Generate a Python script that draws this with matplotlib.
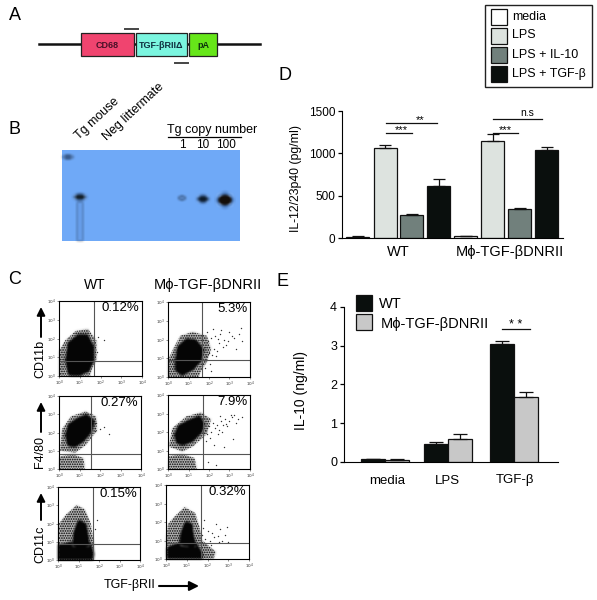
import matplotlib
matplotlib.use("Agg")
import matplotlib.pyplot as plt
import numpy as np
from matplotlib.patches import Rectangle, Ellipse, Polygon

plt.rcParams['font.family'] = ['Liberation Sans', 'DejaVu Sans']
plt.rcParams['hatch.linewidth'] = 0.8

W, H = 597, 600

# panel D
d_groups = ["WT", "Mϕ-TGF-βDNRII"]
d_treatments = ["media", "LPS", "LPS + IL-10", "LPS + TGF-β"]
d_colors = ["#ffffff", "#dde3df", "#71807c", "#0a0f0d"]
d_wt = [15, 1065, 270, 615]
d_wt_err = [3, 35, 10, 80]
d_tg = [20, 1150, 340, 1045]
d_tg_err = [3, 80, 20, 25]

# panel E
e_groups = ["media", "LPS", "TGF-β"]
e_wt = [0.07, 0.47, 3.05]
e_wt_err = [0.02, 0.04, 0.07]
e_tg = [0.05, 0.60, 1.68]
e_tg_err = [0.03, 0.12, 0.13]

# panel B bands
blot_bands_x = [18, 120, 141, 163, 6]
blot_bands_y = [47, 48, 49, 50, 7]
blot_bands_w = [11, 6, 10, 14, 9]
blot_bands_h = [5, 3, 6, 11, 3]
blot_bands_c = ["#101a20", "#5f88c0", "#0c1a28", "#140e08", "#33507a"]

# panel C, decades on both axes
facs_boxes = [(59, 301, 142, 376), (168, 302, 250, 377),
              (59, 396, 141, 469), (168, 395, 250, 469),
              (58, 487, 140, 560), (166, 485, 249, 559)]
facs_gate_x = [1.67, 1.68, 1.57, 1.72, 1.72, 1.7]
facs_gate_y = [0.8, 0.9, 0.8, 0.8, 0.85, 0.85]
facs_pct = ["0.12%", "5.3%", "0.27%", "7.9%", "0.15%", "0.32%"]

# outlines of the solid part of each cloud
facs_core = [
    [[(0.45, 0.85), (0.55, 1.7), (0.95, 2.05), (1.3, 2.05), (1.55, 1.55), (1.55, 0.85), (1.35, 0.35), (0.9, 0.15), (0.55, 0.2)]],
    [[(0.5, 0.92), (0.58, 1.55), (0.95, 1.9), (1.3, 1.85), (1.6, 1.45), (1.52, 0.95), (1.15, 0.5), (0.7, 0.25), (0.5, 0.4)]],
    [[(0.45, 1.85), (0.56, 2.35), (0.98, 2.68), (1.33, 2.82), (1.58, 2.6), (1.5, 2.14), (1.12, 1.62), (0.78, 1.38), (0.52, 1.4)]],
    [[(0.45, 1.85), (0.6, 2.25), (1.07, 2.52), (1.5, 2.7), (1.64, 2.42), (1.53, 2.05), (1.12, 1.6), (0.75, 1.45), (0.52, 1.5)]],
    [[(0.1, 0.1), (0.1, 0.7), (0.5, 0.8), (1.0, 0.9), (1.5, 0.8), (1.6, 0.3), (1.55, 0.1)],
     [(0.85, 0.9), (0.9, 1.5), (1.05, 2.0), (1.25, 1.9), (1.35, 1.3), (1.4, 0.9)]],
    [[(0.2, 0.1), (0.2, 0.55), (0.6, 0.7), (0.9, 0.8), (1.4, 0.7), (1.6, 0.3), (1.6, 0.1)],
     [(0.8, 0.9), (0.85, 1.4), (1.0, 1.85), (1.15, 1.8), (1.2, 1.25), (1.3, 0.8)]],
]
# outlines of the thinner part
facs_halo = [
    [[(0, 0), (0, 1.3), (0.3, 1.9), (0.8, 2.4), (1.4, 2.5), (1.8, 1.9), (1.8, 0.9), (1.6, 0.4), (1.5, 0)]],
    [[(0, 0), (0, 0.9), (0.3, 1.6), (0.6, 2.2), (1.2, 2.4), (1.9, 2.2), (2.1, 1.5), (1.9, 0.8), (1.6, 0.3), (1.5, 0)]],
    [[(0.05, 1.0), (0.15, 2.2), (0.6, 2.9), (1.3, 3.15), (1.8, 2.9), (1.85, 2.1), (1.3, 1.3), (0.8, 0.9)],
     [(0, 0), (0.05, 0.7), (0.7, 0.8), (1.2, 0.6), (1.25, 0)]],
    [[(0.05, 1.2), (0.2, 2.2), (0.9, 2.85), (1.6, 3.05), (2.1, 2.7), (1.9, 1.9), (1.2, 1.2), (0.7, 0.95)],
     [(0, 0), (0.05, 0.7), (0.7, 0.8), (1.3, 0.6), (1.4, 0)]],
    [[(0, 0.5), (0.05, 2.0), (0.4, 2.5), (0.9, 3.0), (1.3, 2.8), (1.6, 2.0), (1.75, 0.9), (1.75, 0), (0, 0)]],
    [[(0.05, 0), (0, 1.0), (0.1, 1.9), (0.5, 2.4), (0.9, 2.8), (1.4, 2.5), (1.6, 1.8), (1.75, 1.0), (2.4, 0.4), (2.3, 0)]],
]

# stray events that fall outside the clouds
facs_x = [[2.15, 1.85, 1.9],
          [1.8, 1.95, 2.1, 2.3, 2.55, 2.75, 3.0, 3.2, 3.45, 3.6, 2.0, 2.25, 2.5, 2.7, 2.95,
           3.1, 1.85, 2.15, 2.4, 2.6, 2.85, 3.3, 1.9, 2.2, 2.45, 2.05, 2.35, 3.55, 1.8, 2.1],
          [1.8, 2.0, 2.2, 2.45, 1.75],
          [1.8, 2.0, 2.2, 2.4, 2.6, 2.8, 3.0, 3.2, 3.4, 3.6, 1.9, 2.1, 2.3, 2.5, 2.7, 2.9,
           3.1, 3.3, 1.85, 2.05, 2.25, 2.45, 2.65, 2.85, 3.05, 1.95, 2.35, 2.75, 3.15, 2.55],
          [1.9, 1.8],
          [1.75, 1.9, 2.1, 2.3, 2.55, 2.85, 1.8, 2.0, 2.2, 2.4, 2.7, 1.85, 2.15, 2.5, 3.0, 2.6, 2.95]]
facs_y = [[1.9, 1.3, 2.1],
          [1.6, 1.9, 2.1, 2.2, 2.3, 2.0, 2.4, 2.1, 2.3, 1.9, 1.3, 1.5, 1.8, 1.6, 1.9,
           2.2, 1.1, 1.2, 1.4, 2.5, 1.7, 1.5, 2.4, 2.55, 2.05, 0.7, 1.1, 2.6, 0.5, 0.3],
          [2.5, 2.2, 2.3, 1.9, 2.1],
          [2.1, 2.3, 2.5, 2.4, 2.6, 2.7, 2.6, 2.9, 2.7, 2.8, 1.9, 2.0, 2.2, 2.1, 2.4, 2.3,
           2.8, 2.5, 1.5, 1.7, 1.3, 1.9, 2.0, 2.45, 2.9, 0.4, 0.2, 1.2, 1.6, 2.85],
          [2.2, 1.7],
          [1.3, 1.1, 0.95, 1.2, 0.9, 1.3, 1.7, 1.5, 1.4, 1.9, 1.0, 2.1, 0.75, 1.25, 0.9, 1.6, 1.75]]

letters = [("A", 9, 15), ("B", 9, 130), ("C", 8, 280), ("D", 278, 76), ("E", 277, 281)]

fig = plt.figure(figsize=(W / 100, H / 100), dpi=100, facecolor="white")


def px_axes(x0, y0, x1, y1):
    return fig.add_axes([x0 / W, 1 - y1 / H, (x1 - x0) / W, (y1 - y0) / H])


def soften(img, dpi):
    # little box blur so the solid marks get a jpeg-ish edge
    pad = 4
    img = np.pad(img, ((pad, pad), (pad, pad), (0, 0)))
    kernel = np.array([1, 2, 3, 2, 1]) / 9
    for axis in (0, 1):
        img = np.apply_along_axis(lambda v: np.convolve(v, kernel, mode="same"), axis, img)
    return img, -pad, -pad


page = fig.add_axes([0, 0, 1, 1], zorder=5)
page.set_xlim(0, W)
page.set_ylim(H, 0)
page.axis("off")
page.patch.set_alpha(0)

for s, x, y in letters:
    page.text(x, y, s, fontsize=13, ha="left", va="center")

# A: construct map
page.plot([39, 260], [44, 44], color="#111111", lw=1.8, zorder=1)
for x0, x1, c, s, tc in [(81, 134, "#f0446f", "CD68", "#4a1028"),
                         (136, 187, "#7bf5df", "TGF-βRIIΔ", "#103040"),
                         (189, 217, "#66e619", "pA", "#0c300c")]:
    page.add_patch(Rectangle((x0, 33), x1 - x0, 23, fc=c, ec="#222222", lw=0.9, zorder=2))
    page.text((x0 + x1) / 2, 45, s, fontsize=6.5, fontweight="bold", color=tc,
              ha="center", va="center", zorder=3)
page.plot([125, 138], [29, 29], color="#444444", lw=1.4)
page.plot([175, 188], [62.5, 62.5], color="#444444", lw=1.4)

# B: blot
blot = px_axes(62, 150, 240, 241)
blot.set_xlim(0, 178)
blot.set_ylim(91, 0)
blot.set_facecolor("#6fa9f7")
blot.set_xticks([])
blot.set_yticks([])
for sp in blot.spines.values():
    sp.set_visible(False)
smear = Rectangle((15, 52), 6, 39, fc="#5f93de", ec="none", alpha=0.55)
smear.set_agg_filter(soften)
blot.add_patch(smear)
for x, y, w, h, c in zip(blot_bands_x, blot_bands_y, blot_bands_w, blot_bands_h, blot_bands_c):
    halo = Ellipse((x, y), w * 1.3, h * 1.5, fc="#3d6fb5", ec="none", alpha=0.5)
    halo.set_agg_filter(soften)
    blot.add_patch(halo)
    band = Ellipse((x, y), w, h, fc=c, ec="none")
    band.set_agg_filter(soften)
    blot.add_patch(band)
page.text(81, 142, "Tg mouse", fontsize=9, rotation=43, ha="left", va="bottom",
          rotation_mode="anchor")
page.text(109, 143, "Neg littermate", fontsize=9, rotation=43, ha="left", va="bottom",
          rotation_mode="anchor")
page.text(167, 130, "Tg copy number", fontsize=9, ha="left", va="center")
page.plot([168, 241], [137, 137], color="black", lw=0.9)
for x, s in [(182, "1"), (203, "10"), (226, "100")]:
    page.text(x, 145, s, fontsize=8.5, ha="center", va="center")

# C: flow plots
for i, box in enumerate(facs_boxes):
    ax = px_axes(*box)
    ax.set_xlim(0, 4)
    ax.set_ylim(0, 4)
    for pts in facs_halo[i]:
        fill = Polygon(pts, fc="#000000", ec="none", alpha=0.3)
        fill.set_agg_filter(soften)
        ax.add_patch(fill)
        ax.add_patch(Polygon(pts, fc="none", ec="#000000", lw=0, hatch="......."))
    for pts in facs_core[i]:
        core = Polygon(pts, fc="#050505", ec="#050505", lw=5, joinstyle="round")
        core.set_agg_filter(soften)
        ax.add_patch(core)
    ax.scatter(facs_x[i], facs_y[i], s=1, color="#333333", linewidths=0)
    ax.axvline(facs_gate_x[i], color="#555555", lw=0.8)
    ax.axhline(facs_gate_y[i], color="#555555", lw=0.8)
    ax.set_xticks(range(5), [f"$10^{k}$" for k in range(5)])
    ax.set_yticks(range(5), [f"$10^{k}$" for k in range(5)])
    ax.tick_params(labelsize=3, length=1.5, width=0.4, pad=0.5, colors="#333333")
    for sp in ax.spines.values():
        sp.set_linewidth(0.8)
    ax.text(0.97, 0.91, facs_pct[i], transform=ax.transAxes, fontsize=9.5,
            ha="right", va="center")

page.text(95, 285, "WT", fontsize=10, ha="center", va="center")
page.text(208, 285, "Mϕ-TGF-βDNRII", fontsize=10.5, ha="center", va="center")
for s, yc, y0, y1 in [("CD11b", 359, 337, 307), ("F4/80", 452, 432, 402), ("CD11c", 544, 520, 493)]:
    page.text(40, yc, s, fontsize=9, rotation=90, ha="center", va="center")
    page.annotate("", xy=(41, y1), xytext=(41, y0),
                  arrowprops=dict(arrowstyle="-|>", color="black", lw=1.4, mutation_scale=12,
                                  shrinkA=0, shrinkB=0))
page.text(130, 585, "TGF-βRII", fontsize=9, ha="center", va="center")
page.annotate("", xy=(199, 586), xytext=(159, 586),
              arrowprops=dict(arrowstyle="-|>", color="black", lw=1.5, mutation_scale=14,
                              shrinkA=0, shrinkB=0))

# D: bars
ax_d = px_axes(342, 111, 563, 238)
ax_d.set_xlim(342, 563)
ax_d.set_ylim(0, 1500)
d_x_wt = [357.5, 385, 411.5, 438.5]
d_x_tg = [465.5, 492.5, 519.5, 546.5]
for xs, vals, errs in [(d_x_wt, d_wt, d_wt_err), (d_x_tg, d_tg, d_tg_err)]:
    ax_d.bar(xs, vals, width=23, color=d_colors, edgecolor="#111111", linewidth=0.9)
    ax_d.errorbar(xs, vals, yerr=[[0] * 4, errs], fmt="none", ecolor="#111111",
                  elinewidth=0.9, capsize=4.5, capthick=0.9)
ax_d.set_yticks([0, 500, 1000, 1500])
ax_d.set_xticks([398, 510], d_groups)
ax_d.tick_params(axis="y", labelsize=8.5, length=3, width=0.9, pad=2)
ax_d.tick_params(axis="x", labelsize=10.5, length=0, pad=5)
ax_d.spines[["top", "right"]].set_visible(False)
page.text(296, 178, "IL-12/23p40 (pg/ml)", fontsize=8.8, rotation=90, ha="center", va="center")
for x0, x1, yv, s, tx, fs in [(386, 412, 1240, "***", 401, 8), (386, 437, 1358, "**", 420, 8),
                              (493, 518, 1240, "***", 505, 8), (493, 542, 1405, "n.s", 527, 7.5)]:
    ax_d.plot([x0, x1], [yv, yv], color="#111111", lw=0.9, clip_on=False)
    ax_d.text(tx, yv + (-25 if s != "n.s" else 10), s, fontsize=fs, ha="center", va="bottom")

# legend box for D
page.add_patch(Rectangle((485, 5), 107, 82, fc="white", ec="#222222", lw=1.0))
for s, c, y0 in zip(d_treatments, d_colors, [9, 28, 47, 66]):
    page.add_patch(Rectangle((491, y0), 16, 15.5, fc=c, ec="#111111", lw=0.9))
    page.text(512, y0 + 7.5, s, fontsize=9, ha="left", va="center")

# E: bars
ax_e = px_axes(344, 306.7, 558, 462)
ax_e.set_xlim(344, 558)
ax_e.set_ylim(0, 4)
e_x = [385, 448, 514]
ax_e.bar([x - 12 for x in e_x], e_wt, width=24, color="#0a0f0d", edgecolor="#111111", linewidth=0.9)
ax_e.bar([x + 12 for x in e_x], e_tg, width=24, color="#c8c8c8", edgecolor="#111111", linewidth=0.9)
ax_e.errorbar([x - 12 for x in e_x], e_wt, yerr=[[0] * 3, e_wt_err], fmt="none", ecolor="#111111",
              elinewidth=0.9, capsize=5, capthick=0.9)
ax_e.errorbar([x + 12 for x in e_x], e_tg, yerr=[[0] * 3, e_tg_err], fmt="none", ecolor="#111111",
              elinewidth=0.9, capsize=5, capthick=0.9)
ax_e.set_yticks([0, 1, 2, 3, 4])
ax_e.set_xticks([387, 447, 515], e_groups)
ax_e.tick_params(axis="y", labelsize=9, length=3, width=0.9, pad=2)
ax_e.tick_params(axis="x", labelsize=9.5, length=0, pad=9)
ax_e.spines[["top", "right"]].set_visible(False)
page.text(301, 390, "IL-10 (ng/ml)", fontsize=10, rotation=90, ha="center", va="center")
ax_e.plot([502, 530], [3.43, 3.43], color="#111111", lw=0.9)
ax_e.text(516, 3.37, "* *", fontsize=9, ha="center", va="bottom")

page.add_patch(Rectangle((356, 295), 16, 15.5, fc="#0a0f0d", ec="#111111", lw=0.9))
page.add_patch(Rectangle((356, 314), 16, 15.5, fc="#c8c8c8", ec="#111111", lw=0.9))
page.text(379, 304, "WT", fontsize=10.5, ha="left", va="center")
page.text(381, 324, "Mϕ-TGF-βDNRII", fontsize=10.5, ha="left", va="center")

fig.savefig("out.png", dpi=100)
